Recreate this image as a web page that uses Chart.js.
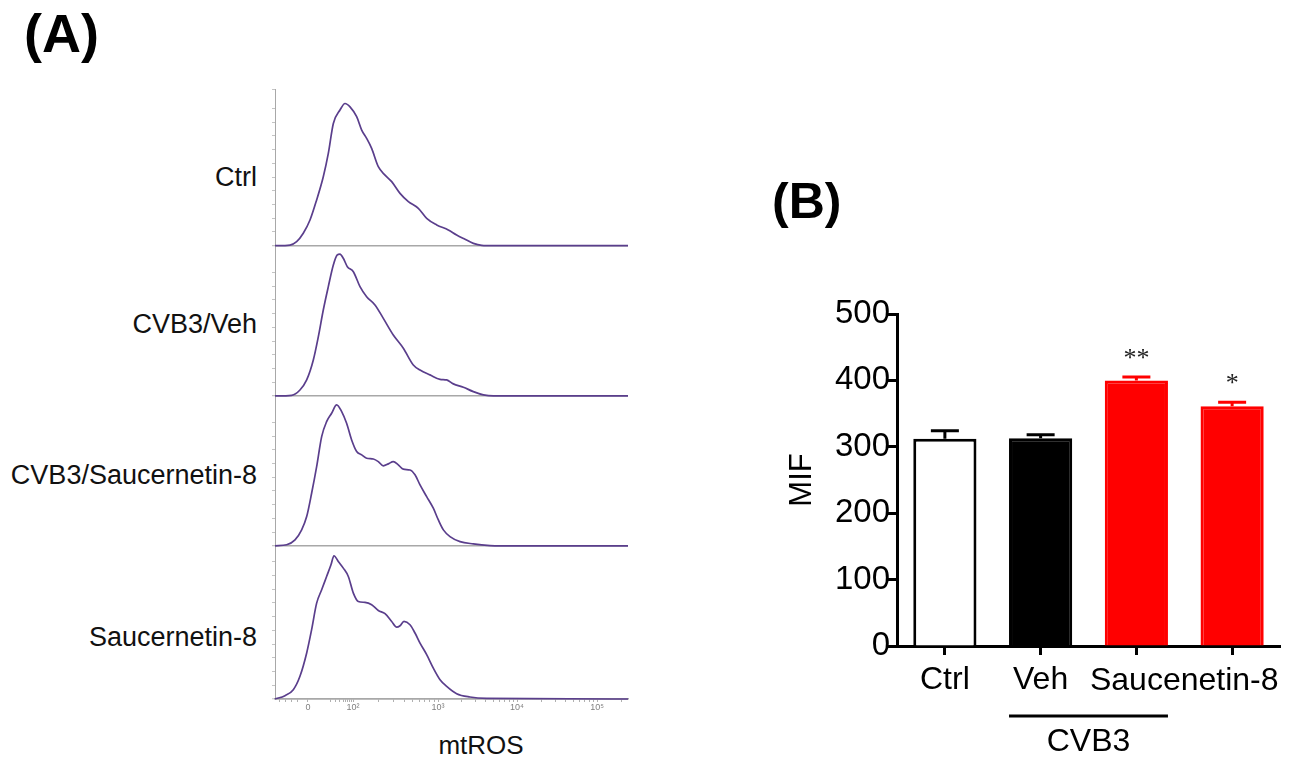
<!DOCTYPE html>
<html>
<head>
<meta charset="utf-8">
<script src="https://cdn.jsdelivr.net/npm/chart.js@4.4.1/dist/chart.umd.min.js"></script>
<style>
  html, body { margin:0; padding:0; background:#fff; width:1305px; height:769px; overflow:hidden; }
  #wrap { position:relative; width:1305px; height:769px; font-family:'Liberation Sans', Arial, sans-serif; }
  .abs { position:absolute; white-space:nowrap; line-height:1; color:#000; }
  #cA { position:absolute; left:255px; top:80px; width:390px; height:689px; }
  #cB { position:absolute; left:770px; top:290px; width:535px; height:479px; }
</style>
</head>
<body>
<div id="wrap">
  <div class="abs" style="left:24px; top:6px; font-size:54px; font-weight:bold;">(A)</div>
  <div class="abs" style="left:772px; top:176px; font-size:50px; font-weight:bold;">(B)</div>
  <div id="labelsA"></div>
  <div class="abs" style="left:481px; top:732px; font-size:26px; transform:translateX(-50%); color:#111;">mtROS</div>
  <canvas id="cA" width="390" height="689"></canvas>
  <canvas id="cB" width="535" height="479"></canvas>
</div>
<script>
// ---------------- Panel A: mtROS histograms ----------------
const histGroups = ['Ctrl', 'CVB3/Veh', 'CVB3/Saucernetin-8', 'Saucernetin-8'];

// x in display units of the biexponential axis (0 = "0" tick), y in % of panel height
const ctrlX = [-0.407,-0.222,-0.140,-0.058,0.025,0.107,0.189,0.251,0.313,0.395,0.457,0.519,0.601,0.663,0.724,0.786,0.868,0.951,1.033,1.136,1.239,1.362,1.465,1.589,1.732,1.835,1.938,2.041,2.144,2.288,3.95];
const ctrlY = [0,0.4,2.6,8.1,16.8,30.0,45.2,60.5,80.2,89.0,93.3,91.1,84.6,75.8,70.4,63.8,51.8,46.3,42.0,34.3,28.9,24.5,17.9,13.6,10.3,7.0,4.2,1.5,0.2,0,0];

const vehX = [-0.407,-0.201,-0.099,-0.016,0.066,0.128,0.189,0.251,0.313,0.362,0.395,0.436,0.486,0.560,0.642,0.724,0.827,0.930,1.053,1.177,1.300,1.383,1.506,1.630,1.712,1.794,1.918,2.041,2.165,2.288,3.95];
const vehY = [0,0.4,3.9,10.5,23.6,38.9,56.4,71.7,85.9,92.5,93.1,90.3,84.8,81.5,71.7,65.1,59.7,50.9,40.0,31.3,20.3,17.0,13.8,10.9,10.5,7.9,5.7,2.8,0.7,0,0];

const cvbSauX = [-0.407,-0.263,-0.160,-0.078,-0.016,0.045,0.107,0.169,0.230,0.292,0.354,0.416,0.477,0.539,0.601,0.663,0.724,0.807,0.868,0.930,0.992,1.053,1.115,1.177,1.259,1.321,1.383,1.465,1.547,1.609,1.671,1.753,1.877,2.041,2.247,2.370,3.95];
const cvbSauY = [0,0.7,3.9,10.5,19.2,34.5,52.0,71.7,81.5,87.0,92.5,88.1,80.4,69.5,61.9,59.7,57.5,57.0,55.3,52.5,53.8,55.3,53.1,50.3,49.8,46.6,40.0,32.3,24.7,17.0,10.5,6.1,2.8,1.3,0.2,0,0];

const sauX = [-0.407,-0.284,-0.181,-0.099,-0.016,0.045,0.107,0.169,0.230,0.284,0.321,0.374,0.436,0.498,0.560,0.621,0.704,0.786,0.868,0.951,1.033,1.095,1.136,1.185,1.259,1.321,1.383,1.465,1.547,1.630,1.712,1.835,1.999,2.206,3.95];
const sauY = [0,2.2,6.1,14.9,30.2,45.5,62.9,71.7,80.4,88.1,94.0,90.3,85.9,80.4,69.5,64.0,63.4,61.9,58.1,56.0,50.9,47.2,48.1,50.9,48.7,43.3,36.7,29.1,20.3,12.7,8.3,3.5,1.3,0.4,0];

const majorTickPos = [0, 0.556, 1.605, 2.58, 3.57];
const majorTickLabels = ['0', '10\u00B2', '10\u00B3', '10\u2074', '10\u2075'];
const negTickPos = [-0.346, -0.272, -0.201, -0.132];

const panelMax = [102.8, 98.6, 98.4, 100.5];     // y range of each stacked panel (top to bottom)
const labelCenterY = [177, 324, 475, 637];       // page y of each panel label

const xMinA = -0.407, xMaxA = 3.95;

// panel labels as HTML text
const labWrap = document.getElementById('labelsA');
histGroups.forEach((g, i) => {
  const d = document.createElement('div');
  d.className = 'abs';
  d.style.cssText = `right:${1305-257}px; top:${labelCenterY[i]-13}px; font-size:27px; color:#111;`;
  d.textContent = g;
  labWrap.appendChild(d);
});

// minor tick positions for the biexponential axis
function buildTicksA() {
  const t = [...negTickPos, ...majorTickPos];
  for (let k = 2; k <= 9; k++) t.push(0.15 + (majorTickPos[1] - 0.15) * Math.log10(k));
  for (let d = 1; d < majorTickPos.length; d++) {
    const a = majorTickPos[d];
    const b = d + 1 < majorTickPos.length ? majorTickPos[d + 1] : a + 0.99;
    for (let k = 2; k <= 9; k++) t.push(a + (b - a) * Math.log10(k));
  }
  return t.filter(v => v >= xMinA && v <= xMaxA).sort((p, q) => p - q);
}

const seriesX = [ctrlX, vehX, cvbSauX, sauX];
const seriesY = [ctrlY, vehY, cvbSauY, sauY];

const datasetsA = histGroups.map((g, i) => ({
  label: g,
  data: seriesX[i].map((x, j) => ({ x: x, y: seriesY[i][j] })),
  yAxisID: 'y' + i,
  borderColor: '#5a3e8c',
  borderWidth: 1.7,
  pointRadius: 0,
  fill: false,
  cubicInterpolationMode: 'monotone',
  clip: false
}));

const scalesA = {
  x: {
    type: 'linear', position: 'bottom', min: xMinA, max: xMaxA,
    afterBuildTicks: (s) => { s.ticks = buildTicksA().map(v => ({ value: v })); },
    ticks: {
      autoSkip: false, maxRotation: 0, padding: 0, color: '#808080',
      font: { family: "'Liberation Sans', Arial, sans-serif", size: 9 },
      callback: (v) => { const i = majorTickPos.indexOf(v); return i >= 0 ? majorTickLabels[i] : ''; }
    },
    grid: { drawOnChartArea: false, drawTicks: true, tickLength: 3, tickColor: '#b0b0b0', tickWidth: 1 },
    border: { display: true, color: '#a8a8a8', width: 1.5 },
    afterFit: (s) => { s.height = 70; }
  }
};
// stacked y axes: the last one defined is placed on top, so define bottom panel first
for (let i = histGroups.length - 1; i >= 0; i--) {
  scalesA['y' + i] = {
    type: 'linear', position: 'left', stack: 'hist', stackWeight: panelMax[i],
    min: 0, max: panelMax[i],
    ticks: { display: false, stepSize: 9 },
    grid: {
      drawOnChartArea: true, drawTicks: true, tickLength: 3,
      color: (c) => (c.tick && c.tick.value === 0) ? '#a8a8a8' : 'rgba(0,0,0,0)',
      lineWidth: (c) => (c.tick && c.tick.value === 0) ? 1.5 : 1,
      tickColor: '#c4c4c4', tickWidth: 1
    },
    border: { display: true, color: '#a8a8a8', width: 1 },
    afterFit: (s) => { s.width = 20; }
  };
}

new Chart(document.getElementById('cA'), {
  type: 'line',
  data: { datasets: datasetsA },
  options: {
    responsive: false, animation: false, parsing: true,
    layout: { padding: { left: 0, top: 9, right: 17, bottom: 0 } },
    plugins: { legend: { display: false }, tooltip: { enabled: false } },
    scales: scalesA
  }
});

// ---------------- Panel B: MIF bar chart ----------------
const mifCategories = ['Ctrl', 'CVB3/Veh', 'CVB3/Saucenetin-8', 'Saucenetin-8'];
const mifTickLabels = ['Ctrl', 'Veh', '', ''];
const mifMean = [312, 313, 400, 361];
const mifErr = [12, 5, 5, 6];
const mifSig = ['', '', '**', '*'];
const mifGroupLabel = 'Saucenetin-8';   // spans bars 3-4
const mifVirusLabel = 'CVB3';           // spans bars 2-3
const barFill = ['#ffffff', '#000000', '#ff0000', '#ff0000'];
const barEdge = ['#000000', '#000000', '#ff0000', '#ff0000'];

const FONT = "'Liberation Sans', Arial, sans-serif";

const annotB = {
  id: 'annotB',
  afterDatasetsDraw(chart) {
    const ctx = chart.ctx;
    const ys = chart.scales.y, xs = chart.scales.x;
    const bars = chart.getDatasetMeta(0).data;
    ctx.save();
    bars.forEach((bar, i) => {
      const yTop = ys.getPixelForValue(mifMean[i] + mifErr[i]);
      const yBar = ys.getPixelForValue(mifMean[i]);
      ctx.strokeStyle = barEdge[i];
      ctx.lineWidth = 3;
      ctx.beginPath();
      ctx.moveTo(bar.x, yBar);
      ctx.lineTo(bar.x, yTop);
      ctx.moveTo(bar.x - 14, yTop);
      ctx.lineTo(bar.x + 14, yTop);
      ctx.stroke();
      if (mifSig[i]) {
        ctx.fillStyle = '#222';
        ctx.font = "26px 'Liberation Serif', 'Times New Roman', serif";
        ctx.textAlign = 'center';
        ctx.textBaseline = 'alphabetic';
        ctx.fillText(mifSig[i], bar.x, yTop - 24 + 13);
      }
    });
    // group labels under the axis
    ctx.fillStyle = '#000';
    ctx.font = '32px ' + FONT;
    ctx.textAlign = 'center';
    ctx.textBaseline = 'middle';
    const xMid23 = (bars[2].x + bars[3].x) / 2;
    ctx.fillText(mifGroupLabel, xMid23, xs.top + 35);
    const l = bars[1].x - bars[1].width / 2, r = bars[2].x + bars[2].width / 2;
    ctx.strokeStyle = '#000';
    ctx.lineWidth = 3;
    ctx.beginPath();
    ctx.moveTo(l, xs.top + 70);
    ctx.lineTo(r, xs.top + 70);
    ctx.stroke();
    ctx.fillText(mifVirusLabel, (l + r) / 2, xs.top + 96);
    ctx.restore();
  }
};

new Chart(document.getElementById('cB'), {
  type: 'bar',
  data: {
    labels: mifCategories,
    datasets: [{
      data: mifMean, backgroundColor: barFill, borderColor: barEdge, borderWidth: 3,
      categoryPercentage: 1, barPercentage: 0.66
    }]
  },
  options: {
    responsive: false, animation: false,
    layout: { padding: { left: 0, top: 24, right: 25, bottom: 0 } },
    plugins: { legend: { display: false }, tooltip: { enabled: false } },
    scales: {
      x: {
        grid: { display: true, offset: false, drawOnChartArea: false, drawTicks: true, tickLength: 9, tickWidth: 3, tickColor: '#000' },
        border: { display: true, color: '#000', width: 3 },
        ticks: { autoSkip: false, maxRotation: 0, padding: 6, color: '#000', font: { family: FONT, size: 32 },
                 callback: (v, i) => mifTickLabels[i] },
        afterFit: (s) => { s.height = 123; }
      },
      y: {
        min: 0, max: 500,
        ticks: { stepSize: 100, padding: -2, color: '#000', font: { family: FONT, size: 33 } },
        grid: { drawOnChartArea: false, drawTicks: true, tickLength: 9, tickWidth: 3, tickColor: '#000' },
        border: { display: true, color: '#000', width: 3 },
        title: { display: true, text: 'MIF', color: '#000', font: { family: FONT, size: 31 }, padding: { top: 14, bottom: 0 } },
        afterFit: (s) => { s.width = 127; }
      }
    }
  },
  plugins: [annotB]
});
</script>
</body>
</html>
